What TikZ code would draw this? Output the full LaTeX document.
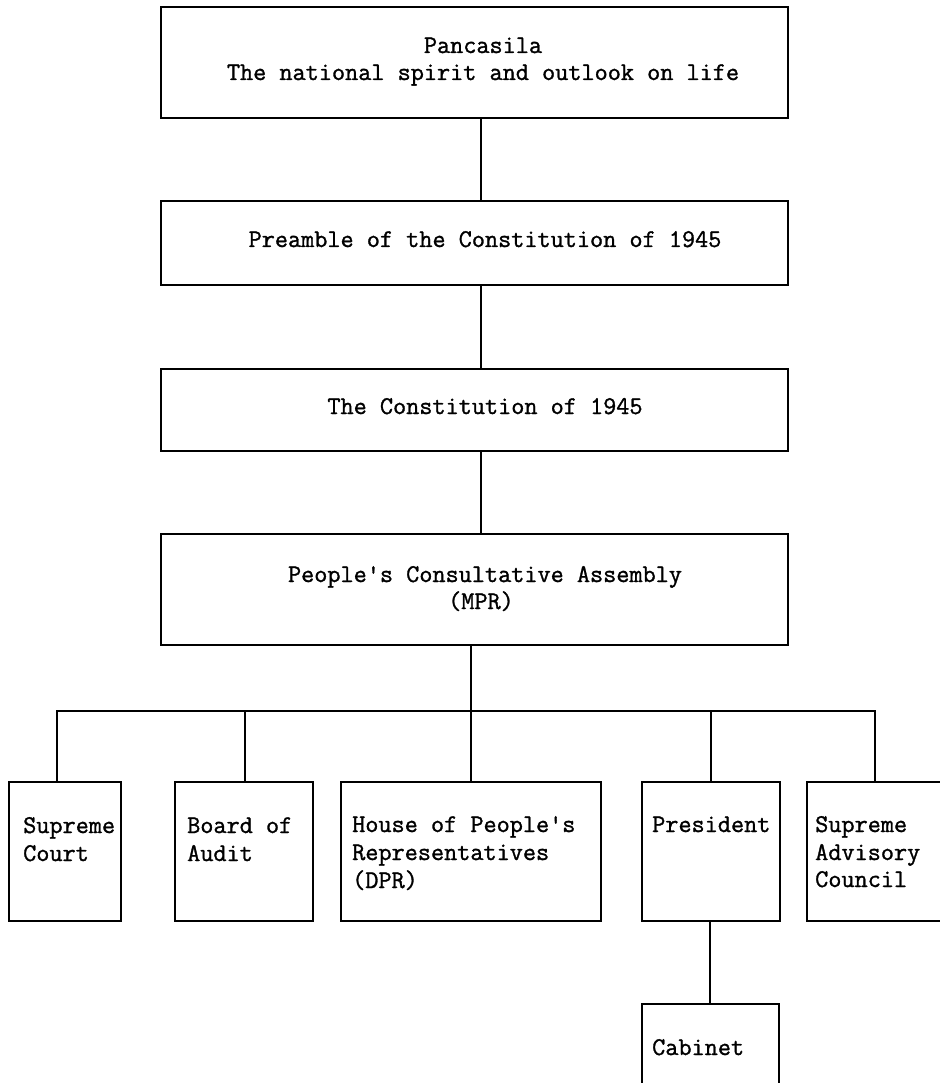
\documentclass[tikz,border=0pt]{standalone}
\usepackage{fontspec}
\setmonofont{Latin Modern Mono}[FakeBold=1.2]
\begin{document}
\begin{tikzpicture}[x=1pt,y=-1pt,
  box/.style={draw, line width=1.6pt, anchor=north west, inner sep=0pt},
  txt/.style={inner sep=0pt, font=\ttfamily\fontsize{25.5}{28}\selectfont},
  ln/.style={line width=1.6pt}]
\useasboundingbox (0,0) rectangle (939,1083);
\fill[white] (0,0) rectangle (939,1083);

% main column boxes
\node[box, minimum width=627pt, minimum height=111pt] (b1) at (160,6) {};
\node[box, minimum width=627pt, minimum height=84pt]  (b2) at (160,200) {};
\node[box, minimum width=627pt, minimum height=82pt]  (b3) at (160,368) {};
\node[box, minimum width=627pt, minimum height=111pt] (b4) at (160,533) {};

% bottom row boxes
\node[box, minimum width=112pt, minimum height=139pt] (sc) at (8,781) {};
\node[box, minimum width=138pt, minimum height=139pt] (ba) at (174,781) {};
\node[box, minimum width=260pt, minimum height=139pt] (ho) at (340,781) {};
\node[box, minimum width=138pt, minimum height=139pt] (pr) at (641,781) {};
\node[box, minimum width=160pt, minimum height=139pt] (ad) at (806,781) {};
\node[box, minimum width=137pt, minimum height=100pt] (cb) at (641,1003) {};

% texts
\node[txt, anchor=base] (t1a) at (483,53) {Pancasila};
\node[txt, anchor=base] (t1b) at (483,80) {The national spirit and outlook on life};
\node[txt, anchor=base] (t2) at (485,247) {Preamble of the Constitution of 1945};
\node[txt, anchor=base] (t3) at (485,414) {The Constitution of 1945};
\node[txt, anchor=base] (t4a) at (485,582) {People's Consultative Assembly};
\node[txt, anchor=base] (t4b) at (481,609) {(MPR)};

\node[txt, anchor=base west] (tsc1) at (23,833) {Supreme};
\node[txt, anchor=base west] (tsc2) at (23,861) {Court};
\node[txt, anchor=base west] (tba1) at (187,833) {Board of};
\node[txt, anchor=base west] (tba2) at (187,861) {Audit};
\node[txt, anchor=base west] (tho1) at (352,832) {House of People's};
\node[txt, anchor=base west] (tho2) at (352,860) {Representatives};
\node[txt, anchor=base west] (tho3) at (352,888) {(DPR)};
\node[txt, anchor=base west] (tpr) at (652,832) {President};
\node[txt, anchor=base west] (tad1) at (815,832) {Supreme};
\node[txt, anchor=base west] (tad2) at (815,860) {Advisory};
\node[txt, anchor=base west] (tad3) at (815,887) {Council};
\node[txt, anchor=base west] (tcb) at (652,1055) {Cabinet};

% connectors
\coordinate (xa) at (481,0);
\coordinate (xb) at (471,0);
\draw[ln] (b1.south -| xa) -- (b2.north -| xa);
\draw[ln] (b2.south -| xa) -- (b3.north -| xa);
\draw[ln] (b3.south -| xa) -- (b4.north -| xa);
\draw[ln] (b4.south -| xb) -- (ho.north -| xb);

\coordinate (busL) at (57,711);
\coordinate (busR) at (875,711);
\draw[ln] (sc.north -| busL) -- (busL) -- (busR) -- (ad.north -| busR);
\coordinate (xba) at (245,711);
\draw[ln] (xba) -- (ba.north -| xba);
\coordinate (xpr) at (711,711);
\draw[ln] (xpr) -- (pr.north -| xpr);
\coordinate (xcb) at (710,0);
\draw[ln] (pr.south -| xcb) -- (cb.north -| xcb);
\end{tikzpicture}
\end{document}
